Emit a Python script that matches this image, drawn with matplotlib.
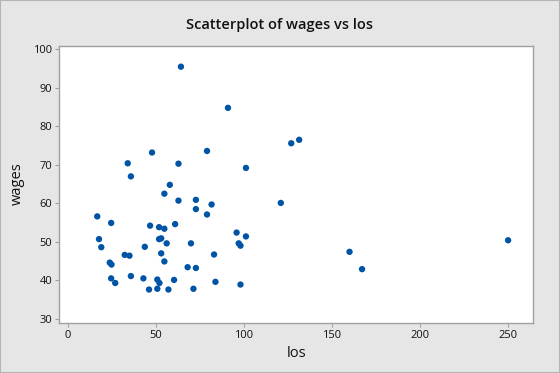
import matplotlib
matplotlib.use('Agg')
import matplotlib.pyplot as plt
from matplotlib.patches import Rectangle

plt.rcParams['font.family'] = ['Open Sans', 'DejaVu Sans']

# length of service vs wages
los = [64.3, 91.0, 131.4, 126.9, 47.9, 79.1, 34.1, 62.9, 101.2, 35.9,
       58.0, 54.9, 62.9, 72.8, 81.7, 121.0, 72.8, 79.1, 16.8, 24.7,
       61.0, 46.8, 51.9, 54.9, 95.9, 101.2, 17.8, 51.9, 53.1, 250.0,
       56.2, 70.0, 97.1, 98.1, 19.1, 43.8, 32.4, 35.1, 53.1, 83.1,
       160.0, 23.9, 24.9, 54.9, 68.1, 72.8, 167.1, 35.9, 24.7, 43.0,
       50.9, 60.4, 27.0, 52.1, 83.9, 98.1, 46.2, 50.9, 57.2, 71.4]
wages = [95.5, 84.8, 76.5, 75.6, 73.2, 73.6, 70.4, 70.3, 69.2, 67.0,
         64.8, 62.5, 60.7, 60.9, 59.7, 60.1, 58.5, 57.1, 56.6, 54.9,
         54.6, 54.2, 53.8, 53.4, 52.4, 51.4, 50.7, 50.7, 50.9, 50.4,
         49.6, 49.6, 49.6, 49.0, 48.6, 48.7, 46.6, 46.4, 47.0, 46.7,
         47.4, 44.6, 44.1, 44.9, 43.4, 43.2, 42.9, 41.1, 40.5, 40.5,
         40.2, 40.1, 39.3, 39.3, 39.6, 38.9, 37.6, 37.8, 37.6, 37.8]

xticks = [0, 50, 100, 150, 200, 250]
yticks = [30, 40, 50, 60, 70, 80, 90, 100]

fig = plt.figure(figsize=(5.6, 3.73), dpi=100, facecolor='#e6e6e6')
ax = fig.add_axes([0.106, 0.135, 0.846, 0.743])

ax.scatter(los, wages, s=21, color='#0054a6', edgecolors='none', zorder=3)

ax.set_xlim(-4.7, 264.2)
ax.set_ylim(29.0, 101.0)
ax.set_xticks(xticks)
ax.set_yticks(yticks)
ax.tick_params(direction='out', length=3, width=0.8, color='#a0a0a0',
               labelsize=8, labelcolor='#111111', pad=2)
for sp in ax.spines.values():
    sp.set_color('#a0a0a0')
    sp.set_linewidth(1)

ax.set_xlabel('los', fontsize=10.5, color='#111111', labelpad=4)
ax.set_ylabel('wages', fontsize=10.5, color='#111111', labelpad=6)
fig.text(0.5, 0.933, 'Scatterplot of wages vs los', ha='center', va='center',
         fontsize=10.5, color='#111111', fontweight='semibold')

# thin frame round the whole picture
fig.patches.append(Rectangle((0, 0), 1, 1, transform=fig.transFigure,
                             fill=False, edgecolor='#b4b4b4', linewidth=1.5))

fig.savefig('out.png', dpi=100, facecolor=fig.get_facecolor())
